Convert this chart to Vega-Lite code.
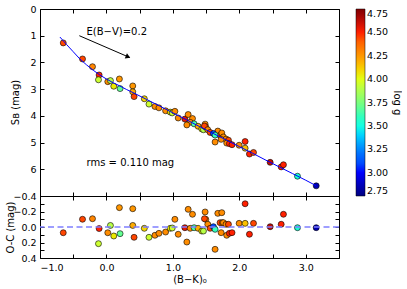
{
  "$schema": "https://vega.github.io/schema/vega-lite/v6.json",
  "background": "white",
  "padding": {"left": 4, "top": 3, "right": 0, "bottom": 0},
  "bounds": "flush",
  "config": {
    "font": "DejaVu Sans",
    "view": {"stroke": "black", "strokeWidth": 1},
    "axis": {"grid": false, "domain": false, "tickColor": "black", "labelColor": "black", "titleColor": "black", "labelFontSize": 9.5, "titleFontSize": 10, "titleFontWeight": "normal", "tickSize": -4, "labelPadding": 8},
    "legend": {"labelFontSize": 9.5, "labelColor": "black", "titleFontSize": 10, "titleFontWeight": "normal", "titleColor": "black"}
  },
  "datasets": {
    "stars": [
      {"bk": -0.65, "sb": 1.27, "oc": 0.074, "logg": 4.45},
      {"bk": -0.36, "sb": 1.87, "oc": -0.10, "logg": 4.45},
      {"bk": -0.21, "sb": 2.16, "oc": -0.107, "logg": 4.3},
      {"bk": -0.11, "sb": 2.47, "oc": 0.02, "logg": 4.5},
      {"bk": -0.12, "sb": 2.65, "oc": 0.215, "logg": 3.95},
      {"bk": 0.02, "sb": 2.72, "oc": 0.074, "logg": 4.28},
      {"bk": 0.06, "sb": 2.68, "oc": -0.02, "logg": 3.9},
      {"bk": 0.11, "sb": 2.89, "oc": 0.116, "logg": 4.05},
      {"bk": 0.195, "sb": 2.62, "oc": -0.25, "logg": 4.25},
      {"bk": 0.205, "sb": 2.98, "oc": 0.086, "logg": 3.7},
      {"bk": 0.396, "sb": 2.88, "oc": -0.236, "logg": 4.25},
      {"bk": 0.396, "sb": 3.10, "oc": -0.02, "logg": 4.2},
      {"bk": 0.416, "sb": 3.28, "oc": 0.133, "logg": 4.45},
      {"bk": 0.57, "sb": 3.36, "oc": 0.017, "logg": 4.1},
      {"bk": 0.64, "sb": 3.56, "oc": 0.133, "logg": 3.95},
      {"bk": 0.73, "sb": 3.65, "oc": 0.107, "logg": 4.28},
      {"bk": 0.79, "sb": 3.70, "oc": 0.082, "logg": 4.28},
      {"bk": 0.89, "sb": 3.81, "oc": 0.065, "logg": 4.28},
      {"bk": 0.96, "sb": 3.86, "oc": 0.017, "logg": 4.05},
      {"bk": 0.99, "sb": 3.89, "oc": 0.013, "logg": 3.95},
      {"bk": 1.03, "sb": 3.83, "oc": -0.099, "logg": 4.28},
      {"bk": 1.08, "sb": 4.08, "oc": 0.094, "logg": 4.28},
      {"bk": 1.18, "sb": 4.12, "oc": 0.009, "logg": 4.55},
      {"bk": 1.23, "sb": 3.95, "oc": -0.228, "logg": 4.28},
      {"bk": 1.295, "sb": 4.10, "oc": -0.164, "logg": 4.28},
      {"bk": 1.26, "sb": 4.24, "oc": 0.017, "logg": 4.28},
      {"bk": 1.32, "sb": 4.30, "oc": 0.009, "logg": 3.65},
      {"bk": 1.21, "sb": 4.34, "oc": 0.194, "logg": 4.28},
      {"bk": 1.38, "sb": 4.39, "oc": 0.017, "logg": 4.2},
      {"bk": 1.435, "sb": 4.49, "oc": 0.052, "logg": 4.05},
      {"bk": 1.46, "sb": 4.52, "oc": 0.052, "logg": 3.9},
      {"bk": 1.485, "sb": 4.31, "oc": -0.194, "logg": 4.28},
      {"bk": 1.495, "sb": 4.42, "oc": -0.099, "logg": 4.28},
      {"bk": 1.475, "sb": 4.38, "oc": -0.107, "logg": 4.45},
      {"bk": 1.525, "sb": 4.52, "oc": -0.035, "logg": 4.28},
      {"bk": 1.56, "sb": 4.62, "oc": 0.017, "logg": 4.45},
      {"bk": 1.635, "sb": 4.98, "oc": 0.288, "logg": 4.28},
      {"bk": 1.676, "sb": 4.57, "oc": -0.176, "logg": 4.28},
      {"bk": 1.71, "sb": 4.73, "oc": -0.056, "logg": 4.45},
      {"bk": 1.61, "sb": 4.66, "oc": -0.004, "logg": 3.1},
      {"bk": 1.635, "sb": 4.72, "oc": 0.03, "logg": 3.6},
      {"bk": 1.745, "sb": 4.78, "oc": -0.056, "logg": 4.28},
      {"bk": 1.736, "sb": 4.64, "oc": -0.185, "logg": 4.28},
      {"bk": 1.76, "sb": 4.79, "oc": -0.056, "logg": 4.28},
      {"bk": 1.80, "sb": 4.87, "oc": -0.035, "logg": 4.28},
      {"bk": 1.836, "sb": 4.91, "oc": -0.035, "logg": 4.45},
      {"bk": 1.81, "sb": 5.02, "oc": 0.107, "logg": 4.28},
      {"bk": 1.85, "sb": 5.04, "oc": 0.082, "logg": 4.5},
      {"bk": 1.89, "sb": 5.08, "oc": 0.073, "logg": 4.5},
      {"bk": 1.726, "sb": 4.88, "oc": 0.073, "logg": 4.28},
      {"bk": 2.087, "sb": 4.96, "oc": -0.30, "logg": 4.5},
      {"bk": 1.997, "sb": 5.10, "oc": -0.047, "logg": 4.28},
      {"bk": 2.087, "sb": 5.21, "oc": -0.047, "logg": 4.15},
      {"bk": 2.152, "sb": 5.43, "oc": 0.094, "logg": 4.5},
      {"bk": 2.213, "sb": 5.37, "oc": -0.047, "logg": 4.45},
      {"bk": 2.464, "sb": 5.74, "oc": -0.004, "logg": 4.62},
      {"bk": 2.63, "sb": 5.91, "oc": -0.035, "logg": 4.5},
      {"bk": 2.664, "sb": 5.83, "oc": -0.164, "logg": 4.5},
      {"bk": 2.875, "sb": 6.26, "oc": 0.009, "logg": 3.55},
      {"bk": 3.157, "sb": 6.62, "oc": 0.009, "logg": 2.85}
    ],
    "fit": [
      {"bk": -0.70, "sb": 1.05}, {"bk": -0.60, "sb": 1.33}, {"bk": -0.50, "sb": 1.60},
      {"bk": -0.40, "sb": 1.87}, {"bk": -0.30, "sb": 2.09}, {"bk": -0.20, "sb": 2.29},
      {"bk": -0.10, "sb": 2.47}, {"bk": 0.00, "sb": 2.62}, {"bk": 0.10, "sb": 2.76},
      {"bk": 0.20, "sb": 2.88}, {"bk": 0.30, "sb": 3.01}, {"bk": 0.40, "sb": 3.13},
      {"bk": 0.60, "sb": 3.38}, {"bk": 0.80, "sb": 3.63}, {"bk": 1.00, "sb": 3.89},
      {"bk": 1.20, "sb": 4.14}, {"bk": 1.40, "sb": 4.40}, {"bk": 1.60, "sb": 4.65},
      {"bk": 1.80, "sb": 4.90}, {"bk": 2.00, "sb": 5.15}, {"bk": 2.20, "sb": 5.40},
      {"bk": 2.40, "sb": 5.66}, {"bk": 2.60, "sb": 5.91}, {"bk": 2.80, "sb": 6.16},
      {"bk": 3.00, "sb": 6.41}, {"bk": 3.16, "sb": 6.62}
    ],
    "notes": [
      {"bk": -0.3, "sb": 0.87, "label": "E(B−V)=0.2"},
      {"bk": -0.3, "sb": 5.77, "label": "rms = 0.110 mag"}
    ],
    "arrow": [
      {"bk0": -0.408, "sb0": 1.0, "bk1": 0.35, "sb1": 1.815}
    ],
    "head": [
      {"bk": 0.325, "sb": 1.79}
    ],
    "zero": [{"oc": 0}]
  },
  "spacing": 0,
  "vconcat": [
    {
      "width": 299,
      "height": 187,
      "layer": [
        {
          "data": {"name": "stars"},
          "mark": {"type": "circle", "size": 36, "opacity": 1, "stroke": "black", "strokeWidth": 0.6},
          "encoding": {
            "x": {"field": "bk", "type": "quantitative", "scale": {"domain": [-1, 3.5], "nice": false, "zero": false},
                  "axis": {"orient": "bottom", "labels": false, "title": null, "values": [-1, -0.5, 0, 0.5, 1, 1.5, 2, 2.5, 3, 3.5]}},
            "y": {"field": "sb", "type": "quantitative", "scale": {"domain": [0, 7], "reverse": true, "nice": false, "zero": false},
                  "axis": {"orient": "left", "title": "Sʙ (mag)", "values": [0, 1, 2, 3, 4, 5, 6], "titleX": -25, "titleY": 93, "titleBaseline": "middle", "titleAlign": "center", "titleAngle": -90}},
            "color": {"field": "logg", "type": "quantitative",
                      "scale": {"domain": [2.75, 3.0, 3.25, 3.5, 3.75, 4.0, 4.25, 4.5, 4.75],
                                "range": ["#000080", "#0000ff", "#0080ff", "#15ffe2", "#7cff7a", "#e2ff15", "#ff9600", "#ff2000", "#800000"]},
                      "legend": {"title": "log g", "titleOrient": "right", "titleAnchor": "middle", "titlePadding": 4, "gradientLength": 187, "gradientThickness": 9,
                                 "gradientStrokeColor": "black", "gradientStrokeWidth": 0.5, "offset": 15,
                                 "values": [2.75, 3.0, 3.25, 3.5, 3.75, 4.0, 4.25, 4.5, 4.75], "format": ".2f"}}
          }
        },
        {
          "data": {"name": "fit"},
          "mark": {"type": "line", "color": "#0000ff", "strokeWidth": 1},
          "encoding": {
            "x": {"field": "bk", "type": "quantitative", "scale": {"domain": [-1, 3.5], "nice": false, "zero": false},
                  "axis": {"orient": "top", "labels": false, "title": null, "values": [-1, -0.5, 0, 0.5, 1, 1.5, 2, 2.5, 3, 3.5]}},
            "y": {"field": "sb", "type": "quantitative", "scale": {"domain": [0, 7], "reverse": true, "nice": false, "zero": false},
                  "axis": {"orient": "right", "labels": false, "title": null, "values": [0, 1, 2, 3, 4, 5, 6, 7]}}
          }
        },
        {
          "data": {"name": "notes"},
          "mark": {"type": "text", "align": "left", "baseline": "middle", "fontSize": 10, "color": "black"},
          "encoding": {
            "x": {"field": "bk", "type": "quantitative", "scale": {"domain": [-1, 3.5], "nice": false, "zero": false}, "axis": null},
            "y": {"field": "sb", "type": "quantitative", "scale": {"domain": [0, 7], "reverse": true, "nice": false, "zero": false}, "axis": null},
            "text": {"field": "label"}
          }
        },
        {
          "data": {"name": "arrow"},
          "mark": {"type": "rule", "color": "black", "strokeWidth": 1},
          "encoding": {
            "x": {"field": "bk0", "type": "quantitative", "scale": {"domain": [-1, 3.5], "nice": false, "zero": false}, "axis": null},
            "y": {"field": "sb0", "type": "quantitative", "scale": {"domain": [0, 7], "reverse": true, "nice": false, "zero": false}, "axis": null},
            "x2": {"field": "bk1"},
            "y2": {"field": "sb1"}
          }
        },
        {
          "data": {"name": "head"},
          "mark": {"type": "point", "shape": "triangle-right", "filled": true, "color": "black", "size": 30, "angle": 23, "opacity": 1},
          "encoding": {
            "x": {"field": "bk", "type": "quantitative", "scale": {"domain": [-1, 3.5], "nice": false, "zero": false}, "axis": null},
            "y": {"field": "sb", "type": "quantitative", "scale": {"domain": [0, 7], "reverse": true, "nice": false, "zero": false}, "axis": null}
          }
        }
      ],
      "resolve": {"axis": {"x": "independent", "y": "independent"}}
    },
    {
      "width": 299,
      "height": 62,
      "layer": [
        {
          "data": {"name": "stars"},
          "mark": {"type": "circle", "size": 36, "opacity": 1, "stroke": "black", "strokeWidth": 0.6},
          "encoding": {
            "x": {"field": "bk", "type": "quantitative", "scale": {"domain": [-1, 3.5], "nice": false, "zero": false},
                  "axis": {"orient": "bottom", "title": "(B−K)₀", "format": ".1f", "titlePadding": 3, "values": [-1, -0.5, 0, 0.5, 1, 1.5, 2, 2.5, 3, 3.5]}},
            "y": {"field": "oc", "type": "quantitative", "scale": {"domain": [-0.4, 0.4], "reverse": true, "nice": false, "zero": false},
                  "axis": {"orient": "left", "title": "O-C (mag)", "format": ".1f", "values": [-0.4, -0.3, -0.2, -0.1, 0, 0.1, 0.2, 0.3, 0.4], "titleX": -30, "titleY": 31, "titleBaseline": "middle", "titleAlign": "center", "titleAngle": -90}},
            "color": {"field": "logg", "type": "quantitative",
                      "scale": {"domain": [2.75, 3.0, 3.25, 3.5, 3.75, 4.0, 4.25, 4.5, 4.75],
                                "range": ["#000080", "#0000ff", "#0080ff", "#15ffe2", "#7cff7a", "#e2ff15", "#ff9600", "#ff2000", "#800000"]},
                      "legend": {"title": "log g", "titleOrient": "right", "titleAnchor": "middle", "titlePadding": 4, "gradientLength": 187, "gradientThickness": 9,
                                 "gradientStrokeColor": "black", "gradientStrokeWidth": 0.5, "offset": 15,
                                 "values": [2.75, 3.0, 3.25, 3.5, 3.75, 4.0, 4.25, 4.5, 4.75], "format": ".2f"}}
          }
        },
        {
          "data": {"name": "zero"},
          "mark": {"type": "rule", "color": "#7f7fff", "strokeWidth": 1.5, "strokeDash": [6, 3.5]},
          "encoding": {
            "y": {"field": "oc", "type": "quantitative", "scale": {"domain": [-0.4, 0.4], "reverse": true, "nice": false, "zero": false},
                  "axis": {"orient": "right", "labels": false, "title": null, "values": [-0.4, -0.3, -0.2, -0.1, 0, 0.1, 0.2, 0.3, 0.4]}}
          }
        },
        {
          "data": {"name": "stars"},
          "mark": {"type": "circle", "size": 1, "opacity": 0},
          "encoding": {
            "x": {"field": "bk", "type": "quantitative", "scale": {"domain": [-1, 3.5], "nice": false, "zero": false},
                  "axis": {"orient": "top", "labels": false, "title": null, "values": [-1, -0.5, 0, 0.5, 1, 1.5, 2, 2.5, 3, 3.5]}},
            "y": {"field": "oc", "type": "quantitative", "scale": {"domain": [-0.4, 0.4], "reverse": true, "nice": false, "zero": false}, "axis": null}
          }
        }
      ],
      "resolve": {"axis": {"x": "independent", "y": "independent"}}
    }
  ]
}
